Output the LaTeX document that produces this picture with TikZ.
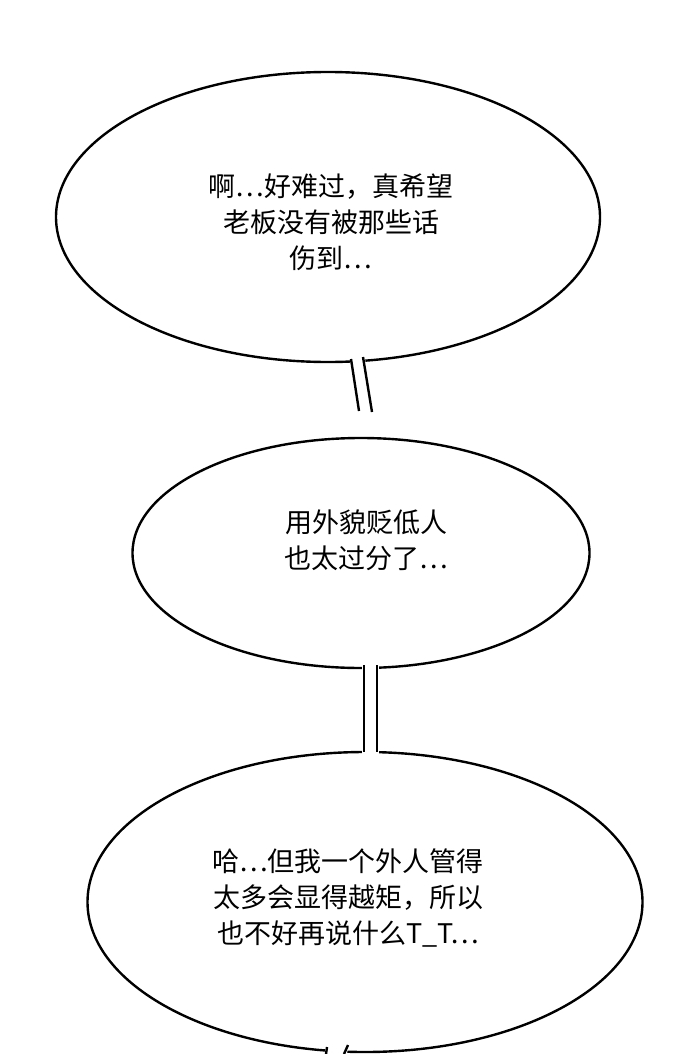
\documentclass[tikz,border=0pt]{standalone}
\usepackage{fontspec}
\setmainfont{Noto Sans CJK SC}
\usetikzlibrary{shapes.geometric}

\tikzset{
  bubble/.style={draw, line width=2.4pt, fill=white, ellipse, inner sep=0pt},
  tailside/.style={line width=2.4pt},
  words/.style={align=center, font=\fontsize{27pt}{36pt}\selectfont}
}

\begin{document}
\begin{tikzpicture}[x=1pt,y=-1pt]
\useasboundingbox[fill=white] (0,0) rectangle (690,1054);

% bubbles
\node[bubble, minimum width=544, minimum height=290] (b1) at (328,217) {};
\node[bubble, minimum width=457, minimum height=230] (b2) at (361,553) {};
\node[bubble, minimum width=555, minimum height=300] (b3) at (365,902) {};

% tails
\fill[white] (349,352) -- (358,418) -- (374,418) -- (364,352) -- cycle;
\fill[white] (362,660) -- (362,757) -- (379,757) -- (379,660) -- cycle;
\fill[white] (325,1040) -- (325,1054) -- (347,1054) -- (349,1040) -- cycle;
\coordinate (t1a) at (351,359); \coordinate (t1b) at (359,411);
\coordinate (t1c) at (363,357); \coordinate (t1d) at (372,412);
\coordinate (t2a) at (364,665); \coordinate (t2b) at (364,752);
\coordinate (t2c) at (377,665); \coordinate (t2d) at (377,752);
\coordinate (t3a) at (327,1047); \coordinate (t3b) at (326,1054);
\coordinate (t3c) at (348,1045); \coordinate (t3d) at (344,1054);
\draw[tailside] (t1a) -- (t1b) (t1c) -- (t1d);
\draw[tailside] (t2a) -- (t2b) (t2c) -- (t2d);
\draw[tailside] (t3a) -- (t3b) (t3c) -- (t3d);

% texts
\node[words] (w1) at (331,222) {啊⋯好难过，真希望\\老板没有被那些话\\伤到⋯};
\node[words] (w2) at (366,540) {用外貌贬低人\\也太过分了⋯};
\node[words] (w3) at (348,898) {哈⋯但我一个外人管得\\太多会显得越矩，所以\\也不好再说什么T\_T⋯};
\end{tikzpicture}
\end{document}
